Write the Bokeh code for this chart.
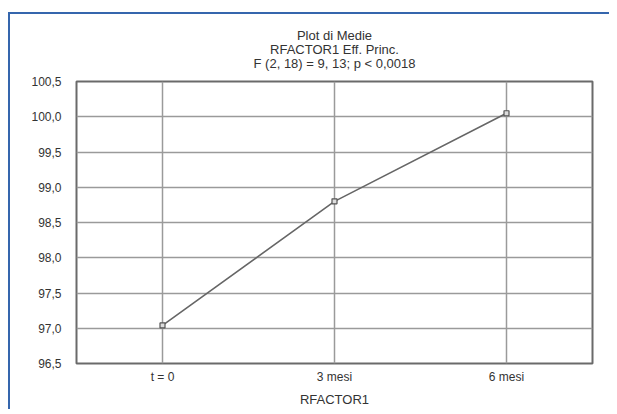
from bokeh.plotting import figure
from bokeh.models import FactorRange, Range1d, FixedTicker, Title
from bokeh.embed import file_html
from bokeh.resources import INLINE

# ---- data ----
categories = ["t = 0", "3 mesi", "6 mesi"]
means = [97.04, 98.80, 100.05]
y_ticks = [96.5, 97.0, 97.5, 98.0, 98.5, 99.0, 99.5, 100.0, 100.5]
y_tick_labels = ["96,5", "97,0", "97,5", "98,0", "98,5", "99,0", "99,5", "100,0", "100,5"]
title_lines = ["Plot di Medie", "RFACTOR1 Eff. Princ.", "F (2, 18) = 9, 13; p < 0,0018"]
x_label = "RFACTOR1"

FONT = "Liberation Sans"
TXT = "#333333"

p = figure(
    x_range=FactorRange(*categories, range_padding=0),
    y_range=Range1d(96.5, 100.5),
    frame_width=516, frame_height=282,
    min_border_left=66, min_border_right=17, min_border_top=67, min_border_bottom=40,
    output_backend="svg", toolbar_location=None, title=None,
)
p.styles = {"border-top": "2px solid #3566ad", "border-left": "2px solid #3566ad",
            "margin-top": "12px", "margin-left": "8px"}

p.background_fill_color = "white"
p.border_fill_color = "white"
p.outline_line_color = "#6a6a6a"
p.outline_line_width = 2

# small spacer between the frame and the title block
p.add_layout(Title(text=" ", text_font_size="5px", standoff=4), "above")
# titles (added from nearest the frame outward)
for t in reversed(title_lines):
    p.add_layout(Title(text=t, align="center", text_font=FONT,
                       text_font_size="13px", text_font_style="normal", text_color=TXT,
                       standoff=-3), "above")

# axes
p.yaxis.ticker = FixedTicker(ticks=y_ticks)
p.yaxis.major_label_overrides = {v: s for v, s in zip(y_ticks, y_tick_labels)}
for ax in (p.xaxis[0], p.yaxis[0]):
    ax.axis_line_color = None
    ax.major_tick_line_color = None
    ax.minor_tick_line_color = None
    ax.major_label_text_font = FONT
    ax.major_label_text_font_size = "12px"
    ax.major_label_text_color = TXT
p.yaxis.major_label_standoff = 9
p.xaxis.major_label_standoff = 0
p.xaxis.axis_label = x_label
p.xaxis.axis_label_text_font = FONT
p.xaxis.axis_label_text_font_size = "13px"
p.xaxis.axis_label_text_font_style = "normal"
p.xaxis.axis_label_text_color = TXT
p.xaxis.axis_label_standoff = 5

p.grid.grid_line_color = "#9a9a9a"
p.grid.grid_line_width = 1.5

p.line(categories, means, line_color="#666666", line_width=1.6)
p.scatter(categories, means, marker="square", size=5, line_color="#555555",
          fill_color="#dddddd", line_width=1.2)

open("out.html", "w").write(file_html(p, INLINE))
